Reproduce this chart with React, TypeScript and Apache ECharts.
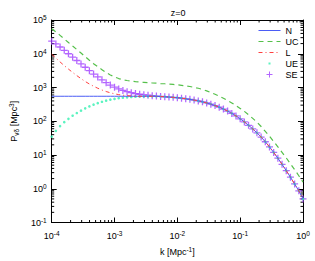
import React, { useEffect, useRef } from 'react';
import * as echarts from 'echarts';

const FONT = '"Liberation Sans", Arial, Helvetica, sans-serif';

// k grid: 61 log-spaced points from 1e-4 to 1 (15 per decade)
const K: number[] = Array.from({ length: 61 }, (_, i) => Math.pow(10, -4 + i / 15));

const N: number[] = [
  550, 550, 550, 550, 550, 550, 550, 550, 550, 550,
  550, 550, 550, 550, 550, 550, 550, 550, 550, 550,
  550, 550, 550, 550, 550, 546, 540, 532, 522, 511,
  497, 481, 463, 445, 424, 401, 376, 349, 321, 291,
  261, 230, 200, 171, 144, 118, 95.7, 76, 59.3, 45.4,
  34.1, 24.7, 17.4, 11.9, 8.04, 5.31, 3.44, 2.2, 1.39, 0.87, 0.5,
];

const UC: number[] = [
  55000, 44000, 35000, 27400, 21600, 16900, 13300, 10500, 8200, 6400,
  5080, 4110, 3380, 2770, 2350, 2060, 1840, 1690, 1610, 1540,
  1490, 1450, 1420, 1390, 1360, 1340, 1310, 1290, 1260, 1230,
  1200, 1160, 1110, 1070, 1010, 949, 877, 794, 710, 631,
  553, 479, 411, 349, 290, 240, 196, 156, 122, 93.6,
  69.7, 50.1, 36.1, 25.1, 17.5, 12, 8.2, 5.5, 3.68, 2.43, 1.58,
];

const L_LOW: number[] = [
  9680, 7440, 5720, 4450, 3510, 2800, 2250, 1830, 1510, 1270,
  1090, 951, 843, 760, 697, 649, 615, 592, 575, 562,
];
const L: number[] = [...L_LOW, ...N.slice(L_LOW.length)];

const UE_LOW: number[] = [
  35, 52, 72, 94, 118, 146, 175, 206, 241, 275,
  310, 344, 378, 408, 436, 460, 482, 498, 511, 521,
  532, 539, 545, 548,
];
const UE: number[] = [...UE_LOW, ...N.slice(UE_LOW.length)];

const SE_LOW: number[] = [
  23500, 19500, 15850, 12600, 10000, 7940, 6310, 5010, 3980, 3160,
  2510, 2060, 1690, 1390, 1180, 1020, 906, 821, 753, 701,
  661, 631, 607, 591, 572, 556, 545,
];
const SE: number[] = [...SE_LOW, ...N.slice(SE_LOW.length)];

const SERIES_NAMES = ['N', 'UC', 'L', 'UE', 'SE'];

const X_MIN = 1e-4;
const X_MAX = 1;
const Y_MIN = 0.1;
const Y_MAX = 1e5;
const MINOR_MULTS = [2, 3, 4, 5, 6, 7, 8, 9];
const X_DECADES = [-4, -3, -2, -1];
const Y_DECADES = [-1, 0, 1, 2, 3, 4];

const pairs = (ys: number[]) => K.map((k, i) => [k, ys[i]]);

const PLUS_SYMBOL = 'path://M4.1,0H5.9V4.1H10V5.9H5.9V10H4.1V5.9H0V4.1H4.1Z';
const PLUS_LEGEND = 'path://M0,0M22,8M10.5,1H11.5V3.5H14V4.5H11.5V7H10.5V4.5H8V3.5H10.5Z';
const DOT_LEGEND = 'path://M0,0M22,8M10,3H12V5H10Z';

const rich = {
  b: { fontSize: 9, fontFamily: FONT, color: '#000', lineHeight: 12 },
  s: { fontSize: 6.5, fontFamily: FONT, color: '#000', lineHeight: 7, verticalAlign: 'top' as const },
  sub: { fontSize: 6.5, fontFamily: FONT, color: '#000', lineHeight: 7, verticalAlign: 'bottom' as const },
};

const expLabel = (v: number) => {
  const e = Math.round(Math.log10(v));
  return `{b|10}{s|${e}}`;
};

const MINOR_LEN = 2.5;
const MAJOR_LEN = 5;

export default function App() {
  const ref = useRef<HTMLDivElement>(null);
  useEffect(() => {
    if (!ref.current) return;
    const chart = echarts.init(ref.current, undefined, { renderer: 'svg' });
    const axisLine = { show: true, lineStyle: { color: '#000', width: 1 } };
    const tick = { show: true, inside: true, length: MAJOR_LEN, lineStyle: { color: '#000', width: 1 } };
    const xMinor = X_DECADES.flatMap((d) => MINOR_MULTS.map((m) => [m * Math.pow(10, d), Y_MIN]));
    const yMinor = Y_DECADES.flatMap((d) => MINOR_MULTS.map((m) => [X_MIN, m * Math.pow(10, d)]));
    const tickStyle = { stroke: '#000', lineWidth: 1 };
    const option: any = {
      animation: false,
      backgroundColor: '#fff',
      title: {
        text: 'z=0',
        left: 173,
        top: 3,
        textAlign: 'center',
        textStyle: { fontSize: 9, fontWeight: 'normal', fontFamily: FONT, color: '#000' },
      },
      grid: { left: 43, right: 12, top: 20, bottom: 31 },
      legend: {
        data: SERIES_NAMES.map((n) =>
          n === 'UE'
            ? { name: n, icon: DOT_LEGEND }
            : n === 'SE'
            ? { name: n, icon: PLUS_LEGEND }
            : { name: n, itemStyle: { opacity: 0 } }
        ),
        orient: 'vertical',
        left: 258,
        top: 26,
        align: 'left',
        itemWidth: 22,
        itemHeight: 8,
        itemGap: 2,
        padding: 0,
        lineStyle: { width: 1 },
        textStyle: { fontSize: 9, fontFamily: FONT, color: '#000' },
      },
      xAxis: [
        {
          type: 'log',
          logBase: 10,
          min: X_MIN,
          max: X_MAX,
          splitNumber: 4,
          position: 'bottom',
          name: '{b|k [Mpc}{s|-1}{b|]}',
          nameLocation: 'middle',
          nameGap: 23,
          nameTextStyle: { rich },
          axisLine,
          axisTick: tick,
          splitLine: { show: false },
          axisLabel: { formatter: expLabel, rich, margin: 7 },
        },
        {
          type: 'log',
          logBase: 10,
          min: X_MIN,
          max: X_MAX,
          splitNumber: 4,
          position: 'top',
          axisLine,
          axisTick: tick,
          splitLine: { show: false },
          axisLabel: { show: false },
        },
      ],
      yAxis: [
        {
          type: 'log',
          logBase: 10,
          min: Y_MIN,
          max: Y_MAX,
          splitNumber: 6,
          position: 'left',
          name: '{b|P}{sub|vδ}{b| [Mpc}{s|3}{b|]}',
          nameLocation: 'middle',
          nameGap: 28,
          nameRotate: 90,
          nameTextStyle: { rich },
          axisLine,
          axisTick: tick,
          splitLine: { show: false },
          axisLabel: { formatter: expLabel, rich, margin: 5 },
        },
        {
          type: 'log',
          logBase: 10,
          min: Y_MIN,
          max: Y_MAX,
          splitNumber: 6,
          position: 'right',
          axisLine,
          axisTick: tick,
          splitLine: { show: false },
          axisLabel: { show: false },
        },
      ],
      series: [
        {
          type: 'custom',
          silent: true,
          clip: false,
          data: xMinor,
          renderItem: (_p: any, api: any) => {
            const x = api.value(0);
            const b = api.coord([x, Y_MIN]);
            const t = api.coord([x, Y_MAX]);
            return {
              type: 'group',
              children: [
                { type: 'line', shape: { x1: b[0], y1: b[1], x2: b[0], y2: b[1] - MINOR_LEN }, style: tickStyle },
                { type: 'line', shape: { x1: t[0], y1: t[1], x2: t[0], y2: t[1] + MINOR_LEN }, style: tickStyle },
              ],
            };
          },
        },
        {
          type: 'custom',
          silent: true,
          clip: false,
          data: yMinor,
          renderItem: (_p: any, api: any) => {
            const y = api.value(1);
            const l = api.coord([X_MIN, y]);
            const r = api.coord([X_MAX, y]);
            return {
              type: 'group',
              children: [
                { type: 'line', shape: { x1: l[0], y1: l[1], x2: l[0] + MINOR_LEN, y2: l[1] }, style: tickStyle },
                { type: 'line', shape: { x1: r[0], y1: r[1], x2: r[0] - MINOR_LEN, y2: r[1] }, style: tickStyle },
              ],
            };
          },
        },
        {
          name: 'SE',
          type: 'scatter',
          data: pairs(SE),
          symbol: PLUS_SYMBOL,
          symbolSize: 7,
          itemStyle: { color: '#a040ff', opacity: 0.8 },
        },
        {
          name: 'UE',
          type: 'scatter',
          data: pairs(UE),
          symbol: 'circle',
          symbolSize: 2.6,
          itemStyle: { color: '#33f0b0' },
        },
        {
          name: 'N',
          type: 'line',
          data: pairs(N),
          symbol: 'none',
          lineStyle: { color: '#4b5cf5', width: 1 },
          itemStyle: { color: '#4b5cf5' },
        },
        {
          name: 'UC',
          type: 'line',
          data: pairs(UC),
          symbol: 'none',
          lineStyle: { color: '#55c04a', width: 1.2, type: [5, 4] },
          itemStyle: { color: '#55c04a' },
        },
        {
          name: 'L',
          type: 'line',
          data: pairs(L),
          symbol: 'none',
          lineStyle: { color: '#ff4040', width: 1, type: [4, 3, 1, 3] },
          itemStyle: { color: '#ff4040' },
        },
      ],
    };
    chart.setOption(option);
    return () => chart.dispose();
  }, []);
  return <div ref={ref} style={{ position: 'fixed', left: 0, top: 0, width: 315, height: 261 }} />;
}
